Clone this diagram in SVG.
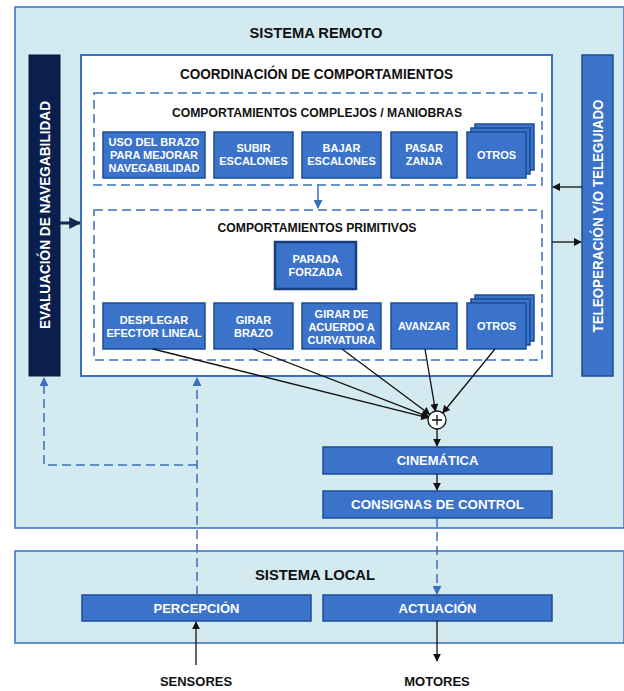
<svg xmlns="http://www.w3.org/2000/svg" width="624" height="691" viewBox="0 0 624 691">
<defs>
<style>
.sys{fill:#d3eaf0;stroke:#3a6fc0;stroke-width:1.5}
.node{fill:#3a73c9;stroke:#1d4c94;stroke-width:1.5}
.dash{fill:none;stroke:#3a6fc0;stroke-width:1.5;stroke-dasharray:9,5}
.t{font-family:"Liberation Sans",Arial,sans-serif;font-weight:bold;text-anchor:middle}
.w{fill:#ffffff;font-size:11px}
.m{fill:#ffffff;font-size:13px}
.k{fill:#111111}
.blk{stroke:#111;stroke-width:1.3;fill:none}
.blu{stroke:#3a6fc0;stroke-width:1.5;fill:none}
</style>
<marker id="ak" viewBox="0 0 10 10" refX="9" refY="5" markerWidth="8" markerHeight="8" markerUnits="userSpaceOnUse" orient="auto"><path d="M0,0 L10,5 L0,10 z" fill="#111"/></marker>
<marker id="ab" viewBox="0 0 10 10" refX="9" refY="5" markerWidth="9" markerHeight="9" markerUnits="userSpaceOnUse" orient="auto"><path d="M0,0 L10,5 L0,10 z" fill="#3a6fc0"/></marker>
<marker id="an" viewBox="0 0 10 10" refX="9" refY="5" markerWidth="12" markerHeight="12" markerUnits="userSpaceOnUse" orient="auto"><path d="M0,0 L10,5 L0,10 z" fill="#13284f"/></marker>
</defs>
<rect width="624" height="691" fill="#ffffff"/>

<g id="sistema-remoto">
<rect class="sys" x="15" y="7" width="609" height="521"/>
<text class="t k" x="316" y="38" font-size="15.5" textLength="133" lengthAdjust="spacingAndGlyphs">SISTEMA REMOTO</text>
</g>

<g id="sistema-local">
<rect class="sys" x="15" y="551" width="609" height="92"/>
<text class="t k" x="315" y="580" font-size="15" textLength="120" lengthAdjust="spacingAndGlyphs">SISTEMA LOCAL</text>
</g>

<g id="evaluacion">
<rect x="29" y="55" width="31" height="321" fill="#0b1f4f" stroke="#0a1a3c" stroke-width="1"/>
<text class="t" fill="#fff" font-size="14" textLength="228" lengthAdjust="spacingAndGlyphs" transform="translate(49.5,215) rotate(-90)">EVALUACIÓN DE NAVEGABILIDAD</text>
</g>

<g id="teleoperacion">
<rect class="node" x="582" y="55" width="31" height="321"/>
<text class="t" fill="#fff" font-size="14" textLength="233" lengthAdjust="spacingAndGlyphs" transform="translate(602.5,216) rotate(-90)">TELEOPERACIÓN Y/O TELEGUIADO</text>
</g>

<g id="coordinacion">
<rect x="81" y="55" width="471" height="321" fill="#ffffff" stroke="#3a6fc0" stroke-width="2"/>
<text class="t k" x="316.5" y="79" font-size="14" textLength="273" lengthAdjust="spacingAndGlyphs">COORDINACIÓN DE COMPORTAMIENTOS</text>
</g>

<g id="complejos">
<rect class="dash" x="94" y="93" width="448" height="92"/>
<text class="t k" x="317" y="116.5" font-size="12.5" textLength="290" lengthAdjust="spacingAndGlyphs">COMPORTAMIENTOS COMPLEJOS / MANIOBRAS</text>
</g>

<g id="uso-brazo">
<rect class="node" x="103" y="132" width="102" height="46"/>
<text class="t w" x="154" y="146">USO DEL BRAZO</text>
<text class="t w" x="154" y="159">PARA MEJORAR</text>
<text class="t w" x="154" y="172">NAVEGABILIDAD</text>
</g>
<g id="subir">
<rect class="node" x="214" y="132" width="79" height="46"/>
<text class="t w" x="253.5" y="152">SUBIR</text>
<text class="t w" x="253.5" y="165">ESCALONES</text>
</g>
<g id="bajar">
<rect class="node" x="302" y="132" width="79" height="46"/>
<text class="t w" x="341.5" y="152">BAJAR</text>
<text class="t w" x="341.5" y="165">ESCALONES</text>
</g>
<g id="zanja">
<rect class="node" x="391" y="132" width="66" height="46"/>
<text class="t w" x="424" y="152">PASAR</text>
<text class="t w" x="424" y="165">ZANJA</text>
</g>
<g id="otros-complejos">
<rect class="node" x="475" y="124" width="59" height="46"/>
<rect class="node" x="471" y="128" width="59" height="46"/>
<rect class="node" x="467" y="132" width="59" height="46"/>
<text class="t w" x="496.5" y="159">OTROS</text>
</g>

<g id="primitivos">
<rect class="dash" x="94" y="210" width="448" height="150"/>
<text class="t k" x="317" y="231.5" font-size="12.5" textLength="199" lengthAdjust="spacingAndGlyphs">COMPORTAMIENTOS PRIMITIVOS</text>
</g>

<g id="parada">
<rect x="275" y="242" width="81" height="47" fill="#3a73c9" stroke="#173f7f" stroke-width="2.5"/>
<text class="t w" x="315.5" y="263">PARADA</text>
<text class="t w" x="315.5" y="276">FORZADA</text>
</g>

<g id="desplegar">
<rect class="node" x="103" y="303" width="102" height="46"/>
<text class="t w" x="154" y="324">DESPLEGAR</text>
<text class="t w" x="154" y="337">EFECTOR LINEAL</text>
</g>
<g id="girar-brazo">
<rect class="node" x="214" y="303" width="79" height="46"/>
<text class="t w" x="253.5" y="324">GIRAR</text>
<text class="t w" x="253.5" y="337">BRAZO</text>
</g>
<g id="girar-curvatura">
<rect class="node" x="302" y="303" width="79" height="46"/>
<text class="t w" x="341.5" y="318">GIRAR DE</text>
<text class="t w" x="341.5" y="331">ACUERDO A</text>
<text class="t w" x="341.5" y="344">CURVATURA</text>
</g>
<g id="avanzar">
<rect class="node" x="391" y="303" width="66" height="46"/>
<text class="t w" x="424" y="330">AVANZAR</text>
</g>
<g id="otros-primitivos">
<rect class="node" x="475" y="295" width="59" height="46"/>
<rect class="node" x="471" y="299" width="59" height="46"/>
<rect class="node" x="467" y="303" width="59" height="46"/>
<text class="t w" x="496.5" y="330">OTROS</text>
</g>

<g id="suma">
<circle cx="437" cy="420" r="9" fill="#ffffff" stroke="#111" stroke-width="1.3"/>
<path d="M432,420 H442 M437,415 V425" stroke="#111" stroke-width="1.3"/>
</g>

<g id="cinematica">
<rect class="node" x="323" y="447" width="229" height="27"/>
<text class="t m" x="437.5" y="465">CINEMÁTICA</text>
</g>
<g id="consignas">
<rect class="node" x="323" y="491" width="229" height="27"/>
<text class="t m" x="437.5" y="509" textLength="173" lengthAdjust="spacingAndGlyphs">CONSIGNAS DE CONTROL</text>
</g>

<g id="percepcion">
<rect class="node" x="82" y="595" width="229" height="26"/>
<text class="t m" x="196.5" y="612.5">PERCEPCIÓN</text>
</g>
<g id="actuacion">
<rect class="node" x="323" y="595" width="229" height="26"/>
<text class="t m" x="437.5" y="612.5">ACTUACIÓN</text>
</g>

<g id="sensores"><text class="t k" x="196" y="686" font-size="13">SENSORES</text></g>
<g id="motores"><text class="t k" x="437" y="686" font-size="13">MOTORES</text></g>

<g id="connectors">
<line x1="318" y1="185" x2="318" y2="208" class="blu" marker-end="url(#ab)"/>
<line x1="60" y1="223" x2="80" y2="223" stroke="#13284f" stroke-width="3" marker-end="url(#an)"/>
<line x1="582" y1="187" x2="553" y2="187" class="blk" marker-end="url(#ak)"/>
<line x1="552" y1="242" x2="581" y2="242" class="blk" marker-end="url(#ak)"/>
<line x1="153" y1="349" x2="428.3" y2="417.8" class="blk" marker-end="url(#ak)"/>
<line x1="253" y1="349" x2="428.6" y2="416.8" class="blk" marker-end="url(#ak)"/>
<line x1="342" y1="349" x2="429.8" y2="414.6" class="blk" marker-end="url(#ak)"/>
<line x1="425" y1="349" x2="435.5" y2="411.1" class="blk" marker-end="url(#ak)"/>
<line x1="495" y1="349" x2="442.7" y2="413" class="blk" marker-end="url(#ak)"/>
<line x1="437" y1="429" x2="437" y2="446" class="blk" marker-end="url(#ak)"/>
<line x1="437" y1="474" x2="437" y2="490" class="blk" marker-end="url(#ak)"/>
<line x1="437" y1="518" x2="437" y2="594" class="blu" stroke-dasharray="9,5" marker-end="url(#ab)"/>
<line x1="196" y1="665" x2="196" y2="622" class="blk" marker-end="url(#ak)"/>
<line x1="437" y1="621" x2="437" y2="661" class="blk" marker-end="url(#ak)"/>
<line x1="197" y1="595" x2="197" y2="378" class="blu" stroke-dasharray="9,5" marker-end="url(#ab)"/>
<polyline points="197,465 44,465 44,378" class="blu" stroke-dasharray="9,5" marker-end="url(#ab)"/>
</g>
</svg>
